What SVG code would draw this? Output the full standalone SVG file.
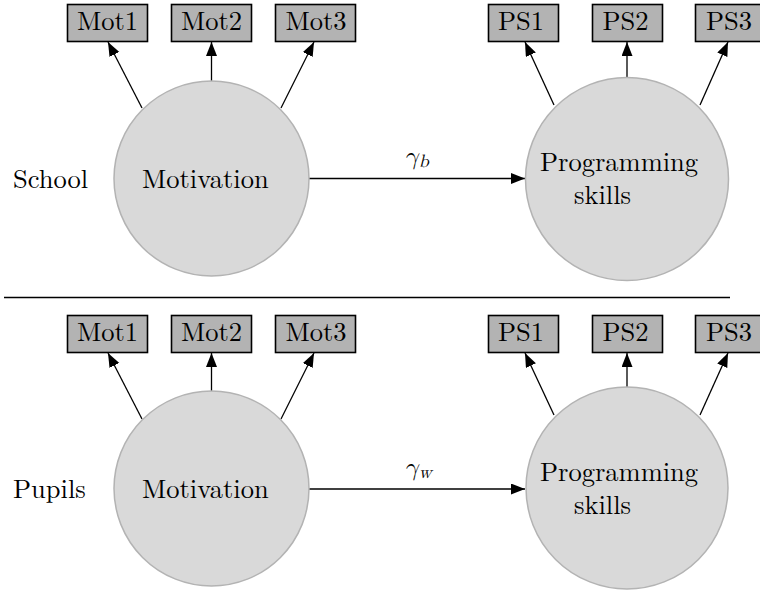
<svg xmlns="http://www.w3.org/2000/svg" width="760" height="591" viewBox="0 0 760 591">
  <style>
    .latent { fill: #d9d9d9; stroke: #b3b3b3; stroke-width: 1.5; }
    .item { fill: #b3b3b3; stroke: #000; stroke-width: 1.6; }
    .lbl { font-family: "Latin Modern Roman", "Liberation Serif", serif; font-size: 26.5px; fill: #000; }
    .math { font-family: "Latin Modern Math", "Latin Modern Roman", "Liberation Serif", serif; font-style: italic; fill: #000; }
    .edge { stroke: #000; stroke-width: 1.3; fill: none; marker-end: url(#tip); }
    .rule { stroke: #000; stroke-width: 1.4; }
  </style>
  <defs>
    <marker id="tip" markerUnits="userSpaceOnUse" markerWidth="16" markerHeight="12" refX="14" refY="5.5" orient="auto">
      <path d="M0,0 L14,5.5 L0,11 Z" fill="#000"/>
    </marker>
  </defs>

  <rect x="0" y="0" width="760" height="591" fill="#fff"/>

  <!-- level labels -->
  <text class="lbl" x="13" y="188">School</text>
  <text class="lbl" x="13" y="498">Pupils</text>

  <!-- separator between levels -->
  <line class="rule" x1="4" y1="297.5" x2="730" y2="297.5"/>

  <!-- connectors -->
  <g id="connectors">
    <!-- between level -->
    <line class="edge" x1="142" y1="108" x2="108" y2="42"/>
    <line class="edge" x1="211.5" y1="81" x2="211.5" y2="42"/>
    <line class="edge" x1="281" y1="108" x2="314" y2="42"/>
    <line class="edge" x1="554" y1="105" x2="525" y2="42"/>
    <line class="edge" x1="627" y1="77.5" x2="627" y2="42"/>
    <line class="edge" x1="700" y1="105" x2="728" y2="42"/>
    <line class="edge" x1="309" y1="178.5" x2="525" y2="178.5"/>
    <!-- within level -->
    <line class="edge" x1="142" y1="419" x2="108" y2="353"/>
    <line class="edge" x1="211.5" y1="392" x2="211.5" y2="353"/>
    <line class="edge" x1="281" y1="419" x2="314" y2="353"/>
    <line class="edge" x1="554" y1="415" x2="525" y2="353"/>
    <line class="edge" x1="627" y1="387.5" x2="627" y2="353"/>
    <line class="edge" x1="700" y1="415" x2="728" y2="353"/>
    <line class="edge" x1="309" y1="489" x2="525" y2="489"/>
  </g>

  <!-- path coefficients -->
  <text class="math" x="404" y="164" font-size="25">γ<tspan font-size="18" dy="3">b</tspan></text>
  <text class="math" x="404" y="475" font-size="25">γ<tspan font-size="18" dy="3">w</tspan></text>

  <!-- school level -->
  <g id="mot-b">
    <circle class="latent" cx="211.5" cy="178.5" r="97.5"/>
    <text class="lbl" x="142" y="188">Motivation</text>
  </g>
  <g id="ps-b">
    <circle class="latent" cx="627" cy="179" r="101.5"/>
    <text class="lbl" x="540" y="171">Programming</text>
    <text class="lbl" x="574" y="204">skills</text>
  </g>
  <g id="mot1-b">
    <rect class="item" x="67.5" y="4.5" width="80" height="37"/>
    <text class="lbl" x="77" y="30">Mot1</text>
  </g>
  <g id="mot2-b">
    <rect class="item" x="171.5" y="4.5" width="80" height="37"/>
    <text class="lbl" x="181" y="30">Mot2</text>
  </g>
  <g id="mot3-b">
    <rect class="item" x="275.5" y="4.5" width="80" height="37"/>
    <text class="lbl" x="285.5" y="30">Mot3</text>
  </g>
  <g id="ps1-b">
    <rect class="item" x="488.5" y="4.5" width="70" height="37"/>
    <text class="lbl" x="498" y="30">PS1</text>
  </g>
  <g id="ps2-b">
    <rect class="item" x="592.5" y="4.5" width="70" height="37"/>
    <text class="lbl" x="602.5" y="30">PS2</text>
  </g>
  <g id="ps3-b">
    <rect class="item" x="695.5" y="4.5" width="70" height="37"/>
    <text class="lbl" x="706" y="30">PS3</text>
  </g>

  <!-- pupil level -->
  <g id="mot-w">
    <circle class="latent" cx="211.5" cy="488.5" r="97.5"/>
    <text class="lbl" x="142" y="498">Motivation</text>
  </g>
  <g id="ps-w">
    <circle class="latent" cx="627" cy="488" r="101"/>
    <text class="lbl" x="540" y="481">Programming</text>
    <text class="lbl" x="574" y="514">skills</text>
  </g>
  <g id="mot1-w">
    <rect class="item" x="67.5" y="315.5" width="80" height="37"/>
    <text class="lbl" x="77" y="341">Mot1</text>
  </g>
  <g id="mot2-w">
    <rect class="item" x="171.5" y="315.5" width="80" height="37"/>
    <text class="lbl" x="181" y="341">Mot2</text>
  </g>
  <g id="mot3-w">
    <rect class="item" x="275.5" y="315.5" width="80" height="37"/>
    <text class="lbl" x="285.5" y="341">Mot3</text>
  </g>
  <g id="ps1-w">
    <rect class="item" x="488.5" y="315.5" width="70" height="37"/>
    <text class="lbl" x="498" y="341">PS1</text>
  </g>
  <g id="ps2-w">
    <rect class="item" x="592.5" y="315.5" width="70" height="37"/>
    <text class="lbl" x="602.5" y="341">PS2</text>
  </g>
  <g id="ps3-w">
    <rect class="item" x="695.5" y="315.5" width="70" height="37"/>
    <text class="lbl" x="706" y="341">PS3</text>
  </g>
</svg>
